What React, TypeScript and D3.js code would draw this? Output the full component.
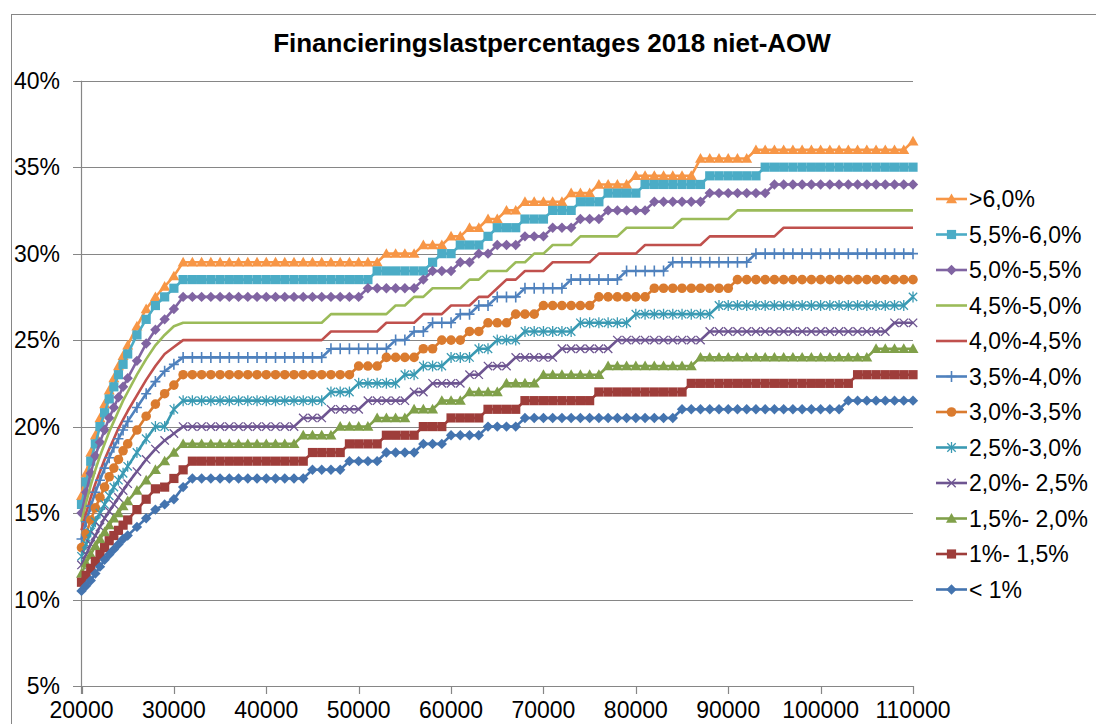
import React from 'react';
import * as d3 from 'd3';

// income grid: 500 steps in the steep part, 1000 steps after
const earlyIncomes = [20000, 20500, 21000, 21500, 22000, 22500, 23000, 23500, 24000, 24500, 25000, 26000, 27000, 28000, 29000, 30000];
const laterIncomes = d3.range(31000, 110001, 1000);

const xTicks = [20000, 30000, 40000, 50000, 60000, 70000, 80000, 90000, 100000, 110000];
const yTicks = [5, 10, 15, 20, 25, 30, 35, 40];

// series names, legend order (top to bottom)
const seriesNames = ['>6,0%', '5,5%-6,0%', '5,0%-5,5%', '4,5%-5,0%', '4,0%-4,5%', '3,5%-4,0%', '3,0%-3,5%', '2,5%-3,0%', '2,0%- 2,5%', '1,5%- 2,0%', '1%- 1,5%', '< 1%'];

// values on earlyIncomes (percent)
const gt6Early = [16.0, 17.3, 18.5, 19.5, 20.5, 21.3, 22.1, 22.8, 23.5, 24.1, 24.7, 25.8, 26.8, 27.5, 28.1, 28.7];
const s55Early = [15.5, 16.8, 18.0, 19.0, 20.0, 20.8, 21.6, 22.3, 23.0, 23.6, 24.2, 25.3, 26.2, 27.0, 27.5, 28.0];
const s50Early = [15.0, 16.2, 17.3, 18.3, 19.1, 19.8, 20.5, 21.1, 21.7, 22.3, 22.8, 23.8, 24.8, 25.6, 26.2, 26.8];
const s45Early = [14.5, 15.6, 16.6, 17.5, 18.3, 19.0, 19.7, 20.3, 20.9, 21.5, 22.0, 23.0, 23.9, 24.7, 25.3, 25.8];
const s40Early = [14.0, 15.0, 15.9, 16.7, 17.4, 18.1, 18.7, 19.3, 19.9, 20.4, 20.9, 21.8, 22.7, 23.5, 24.2, 24.6];
const s35Early = [13.5, 14.5, 15.4, 16.2, 16.9, 17.6, 18.2, 18.8, 19.3, 19.8, 20.3, 21.1, 21.9, 22.6, 23.2, 23.6];
const s30Early = [13.0, 13.8, 14.6, 15.3, 15.9, 16.5, 17.1, 17.6, 18.1, 18.6, 19.0, 19.8, 20.6, 21.3, 21.9, 22.4];
const s25Early = [12.5, 13.2, 13.9, 14.5, 15.0, 15.5, 16.0, 16.5, 16.9, 17.3, 17.7, 18.5, 19.3, 20.0, 20.0, 21.0];
const s20Early = [12.0, 12.6, 13.2, 13.7, 14.2, 14.7, 15.1, 15.5, 15.9, 16.3, 16.7, 17.4, 18.1, 18.7, 19.2, 19.6];
const s15Early = [11.5, 12.1, 12.6, 13.1, 13.5, 13.9, 14.3, 14.7, 15.0, 15.4, 15.7, 16.3, 16.9, 17.5, 18.0, 18.5];
const s10Early = [11.0, 11.4, 11.8, 12.2, 12.6, 13.0, 13.4, 13.7, 14.0, 14.3, 14.6, 15.2, 15.8, 16.4, 16.5, 17.0];
const lt1Early = [10.5, 10.8, 11.1, 11.5, 11.9, 12.3, 12.6, 12.9, 13.2, 13.5, 13.7, 14.2, 14.7, 15.2, 15.5, 15.8];

// [income from which the value holds, percent]
const gt6Steps = [[31000, 29.5], [53000, 30.0], [57000, 30.5], [60000, 31.0], [62000, 31.5], [64000, 32.0], [66000, 32.5], [68000, 33.0], [73000, 33.5], [76000, 34.0], [80000, 34.5], [87000, 35.5], [93000, 36.0], [110000, 36.5]];
const s55Steps = [[31000, 28.5], [52000, 29.0], [58000, 29.5], [59000, 30.0], [61000, 30.5], [64000, 31.0], [65000, 31.5], [68000, 32.0], [71000, 32.5], [74000, 33.0], [77000, 33.5], [81000, 34.0], [88000, 34.5], [94000, 35.0]];
const s50Steps = [[31000, 27.5], [51000, 28.0], [57000, 28.5], [58000, 29.0], [61000, 29.5], [63000, 30.0], [65000, 30.5], [68000, 31.0], [71000, 31.5], [74000, 32.0], [77000, 32.5], [82000, 33.0], [88000, 33.5], [95000, 34.0]];
const s45Steps = [[31000, 26.0], [47000, 26.5], [54000, 27.0], [56000, 27.5], [58000, 28.0], [62000, 28.5], [64000, 29.0], [67000, 29.5], [69000, 30.0], [71000, 30.5], [74000, 31.0], [79000, 31.5], [85000, 32.0], [91000, 32.5]];
const s40Steps = [[31000, 25.0], [47000, 25.5], [53000, 26.0], [57000, 26.5], [60000, 27.0], [63000, 27.5], [65000, 28.0], [66000, 28.5], [68000, 29.0], [71000, 29.5], [76000, 30.0], [81000, 30.5], [88000, 31.0], [96000, 31.5]];
const s35Steps = [[31000, 24.0], [47000, 24.5], [54000, 25.0], [56000, 25.5], [58000, 26.0], [61000, 26.5], [63000, 27.0], [65000, 27.5], [68000, 28.0], [73000, 28.5], [79000, 29.0], [84000, 29.5], [93000, 30.0]];
const s30Steps = [[31000, 23.0], [50000, 23.5], [53000, 24.0], [57000, 24.5], [59000, 25.0], [62000, 25.5], [64000, 26.0], [67000, 26.5], [70000, 27.0], [76000, 27.5], [82000, 28.0], [91000, 28.5]];
const s25Steps = [[31000, 21.5], [47000, 22.0], [50000, 22.5], [55000, 23.0], [57000, 23.5], [60000, 24.0], [63000, 24.5], [65000, 25.0], [68000, 25.5], [74000, 26.0], [80000, 26.5], [89000, 27.0], [110000, 27.5]];
const s20Steps = [[31000, 20.0], [44000, 20.5], [47000, 21.0], [51000, 21.5], [56000, 22.0], [58000, 22.5], [62000, 23.0], [64000, 23.5], [67000, 24.0], [72000, 24.5], [78000, 25.0], [88000, 25.5], [108000, 26.0]];
const s15Steps = [[31000, 19.0], [44000, 19.5], [48000, 20.0], [52000, 20.5], [56000, 21.0], [59000, 21.5], [62000, 22.0], [66000, 22.5], [70000, 23.0], [77000, 23.5], [87000, 24.0], [106000, 24.5]];
const s10Steps = [[31000, 17.5], [32000, 18.0], [45000, 18.5], [49000, 19.0], [53000, 19.5], [57000, 20.0], [60000, 20.5], [64000, 21.0], [68000, 21.5], [76000, 22.0], [86000, 22.5], [104000, 23.0]];
const lt1Steps = [[31000, 16.5], [32000, 17.0], [45000, 17.5], [49000, 18.0], [53000, 18.5], [57000, 19.0], [60000, 19.5], [64000, 20.0], [68000, 20.5], [85000, 21.0], [103000, 21.5]];

const earlyValues = [gt6Early, s55Early, s50Early, s45Early, s40Early, s35Early, s30Early, s25Early, s20Early, s15Early, s10Early, lt1Early];
const stepValues = [gt6Steps, s55Steps, s50Steps, s45Steps, s40Steps, s35Steps, s30Steps, s25Steps, s20Steps, s15Steps, s10Steps, lt1Steps];

const colors = ['#F79646', '#4BACC6', '#8064A2', '#9BBB59', '#C0504D', '#4F81BD', '#DA7B2F', '#3A9AB3', '#6E5591', '#80A04A', '#9E3D3A', '#4474AF'];
const markers = ['triangle', 'square', 'diamond', 'none', 'none', 'plus', 'circle', 'star', 'x', 'triangle', 'square', 'diamond'];

const font = 'Arial, "Liberation Sans", sans-serif';

function expand(early: number[], steps: number[][]) {
  const pts: [number, number][] = earlyIncomes.map((inc, i) => [inc, early[i]]);
  laterIncomes.forEach((inc) => {
    let v = steps[0][1];
    steps.forEach(([s, val]) => { if (s <= inc) v = val; });
    pts.push([inc, v]);
  });
  return pts;
}

function Marker({ type, color, cx, cy }: { type: string; color: string; cx: number; cy: number }) {
  const t = `translate(${cx},${cy})`;
  if (type === 'diamond') return <path transform={t} d="M0,-5.2L5.2,0L0,5.2L-5.2,0Z" fill={color} />;
  if (type === 'square') return <path transform={t} d="M-4.6,-4.6h9.2v9.2h-9.2Z" fill={color} />;
  if (type === 'triangle') return <path transform={t} d="M0,-5.5L5.5,4.2L-5.5,4.2Z" fill={color} />;
  if (type === 'circle') return <circle cx={cx} cy={cy} r={4.8} fill={color} />;
  if (type === 'plus') return <path transform={t} d="M-5,0H5M0,-5.5V5.5" stroke={color} strokeWidth={1.6} fill="none" />;
  if (type === 'x') return <path transform={t} d="M-4.2,-4.2L4.2,4.2M-4.2,4.2L4.2,-4.2" stroke={color} strokeWidth={1.3} fill="none" />;
  if (type === 'star') return <path transform={t} d="M-4.2,-4.2L4.2,4.2M-4.2,4.2L4.2,-4.2M0,-5.5V5.5" stroke={color} strokeWidth={1.3} fill="none" />;
  return null;
}

export default function App() {
  const x = d3.scaleLinear().domain([20000, 110000]).range([81.5, 913]);
  const y = d3.scaleLinear().domain([5, 40]).range([686, 80.7]);
  const line = d3.line<[number, number]>().x((d) => x(d[0])).y((d) => y(d[1]));

  const series = seriesNames.map((name, i) => ({
    name,
    color: colors[i],
    marker: markers[i],
    points: expand(earlyValues[i], stepValues[i]),
  }));

  const legendY0 = 199;
  const legendStep = 35.5;

  return (
    <svg width={1096} height={724} style={{ position: 'absolute', left: 0, top: 0, background: '#fff' }}>
      <rect x={11.5} y={14.5} width={1200} height={800} fill="#fff" stroke="#868686" strokeWidth={1} />
      <text x={552} y={52} textAnchor="middle" fontFamily={font} fontWeight="bold" fontSize={26} fill="#000">
        Financieringslastpercentages 2018 niet-AOW
      </text>

      {/* gridlines + y ticks */}
      {yTicks.map((t) => (
        <g key={t}>
          <line x1={73} x2={913} y1={Math.round(y(t)) + 0.5} y2={Math.round(y(t)) + 0.5} stroke="#868686" strokeWidth={1.2} />
          <text x={60} y={y(t) + 8} textAnchor="end" fontFamily={font} fontSize={23} fill="#000">{t}%</text>
        </g>
      ))}
      {/* y axis */}
      <line x1={81.5} x2={81.5} y1={y(40)} y2={694} stroke="#868686" strokeWidth={1.2} />
      {/* x ticks */}
      {xTicks.map((t) => (
        <g key={t}>
          <line x1={Math.round(x(t)) + 0.5} x2={Math.round(x(t)) + 0.5} y1={686} y2={694} stroke="#868686" strokeWidth={1.2} />
          <text x={x(t)} y={718} textAnchor="middle" fontFamily={font} fontSize={23} fill="#000">{t}</text>
        </g>
      ))}

      {/* series: first listed drawn first, lower series on top */}
      {series.map((s) => (
        <g key={s.name}>
          <path d={line(s.points) || ''} fill="none" stroke={s.color} strokeWidth={2.6} strokeLinejoin="round" />
          {s.points.map((p, j) => (
            <Marker key={j} type={s.marker} color={s.color} cx={x(p[0])} cy={y(p[1])} />
          ))}
        </g>
      ))}

      {/* legend */}
      {series.map((s, i) => {
        const ly = legendY0 + i * legendStep;
        return (
          <g key={s.name}>
            <line x1={936} x2={967} y1={ly} y2={ly} stroke={s.color} strokeWidth={2.6} />
            <Marker type={s.marker} color={s.color} cx={951.5} cy={ly} />
            <text x={969} y={ly + 8} fontFamily={font} fontSize={23} fill="#000">{s.name}</text>
          </g>
        );
      })}
    </svg>
  );
}
